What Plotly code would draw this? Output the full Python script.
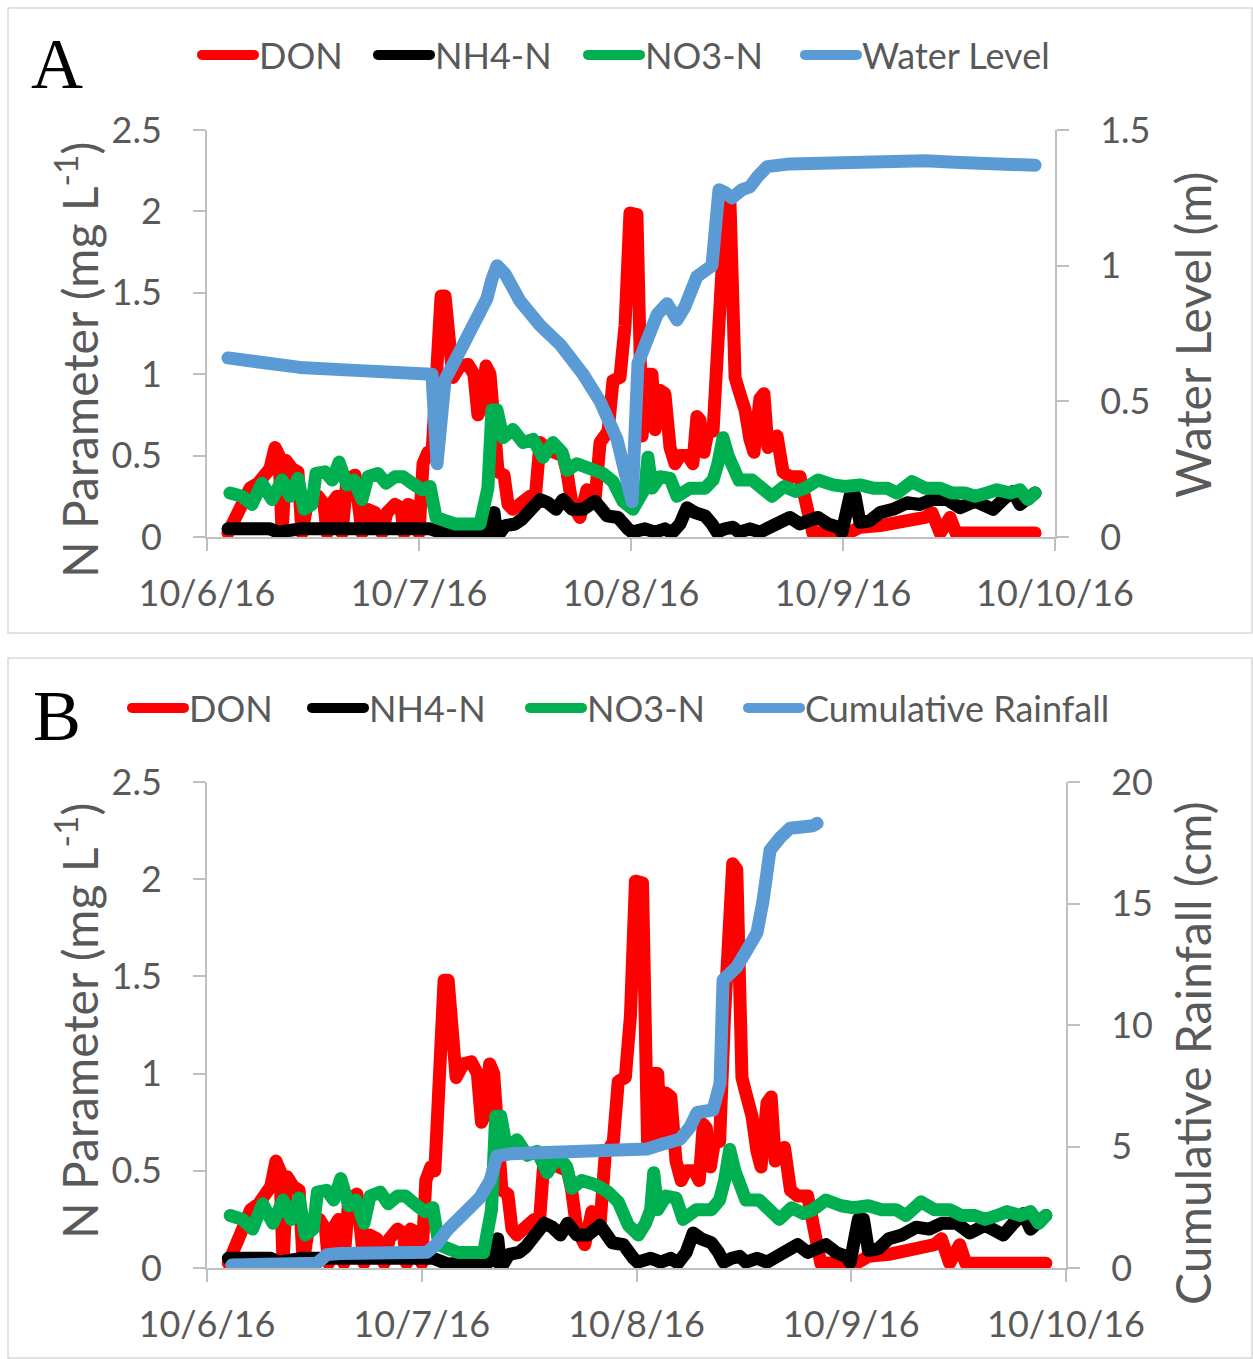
import pandas as pd
import plotly.graph_objects as go

BASE = pd.Timestamp("2016-10-06")

# ---------------- data (time in days after 10/6/16 00:00) ----------------
don_t = [0.099, 0.156, 0.203, 0.241, 0.274, 0.297, 0.321, 0.340, 0.354, 0.373, 0.401, 0.429, 0.448,
         0.472, 0.495, 0.524, 0.552, 0.566, 0.585, 0.613, 0.637, 0.660, 0.698, 0.731, 0.755, 0.792,
         0.825, 0.849, 0.887, 0.915, 0.929, 0.948, 0.981, 1.000, 1.019, 1.042, 1.061, 1.085, 1.104,
         1.123, 1.142, 1.160, 1.193, 1.231, 1.259, 1.278, 1.297, 1.316, 1.335, 1.354, 1.373, 1.401,
         1.420, 1.443, 1.476, 1.524, 1.547, 1.571, 1.618, 1.679, 1.698, 1.722, 1.759, 1.792, 1.830,
         1.854, 1.892, 1.915, 1.948, 1.972, 1.995, 2.028, 2.052, 2.080, 2.099, 2.113, 2.137, 2.160,
         2.184, 2.208, 2.231, 2.269, 2.292, 2.311, 2.325, 2.344, 2.363, 2.387, 2.410, 2.429, 2.448,
         2.467, 2.491, 2.509, 2.538, 2.561, 2.580, 2.608, 2.627, 2.646, 2.665, 2.689, 2.717, 2.750,
         2.797, 2.821, 2.858, 3.033, 3.080, 3.175, 3.292, 3.387, 3.420, 3.458, 3.505, 3.533, 3.906]
don_v = [0.025, 0.20, 0.30, 0.33, 0.40, 0.42, 0.55, 0.50, 0.025, 0.47, 0.42, 0.40, 0.025,
         0.20, 0.22, 0.25, 0.20, 0.025, 0.20, 0.25, 0.025, 0.35, 0.38, 0.025, 0.17, 0.15,
         0.025, 0.15, 0.20, 0.18, 0.025, 0.20, 0.18, 0.025, 0.45, 0.52, 0.50, 1.10, 1.48,
         1.48, 1.15, 0.98, 1.05, 1.06, 1.00, 0.75, 0.80, 1.05, 1.00, 0.60, 0.40, 0.38,
         0.20, 0.17, 0.20, 0.25, 0.22, 0.58, 0.53, 0.50, 0.40, 0.20, 0.12, 0.29, 0.22,
         0.58, 0.65, 0.96, 0.98, 1.30, 1.99, 1.98, 0.62, 1.00, 1.00, 0.66, 0.90, 0.88,
         0.55, 0.45, 0.50, 0.50, 0.45, 0.74, 0.72, 0.52, 0.65, 0.65, 1.30, 1.90, 2.08,
         2.05, 0.98, 0.90, 0.78, 0.60, 0.52, 0.85, 0.88, 0.55, 0.60, 0.62, 0.40, 0.37,
         0.37, 0.20, 0.025, 0.03, 0.06, 0.07, 0.10, 0.12, 0.15, 0.025, 0.12, 0.025, 0.025]

nh4_t = [0.099, 0.297, 0.335, 0.392, 0.439, 1.052, 1.099, 1.123, 1.311, 1.344, 1.354, 1.368, 1.406,
         1.453, 1.486, 1.524, 1.571, 1.608, 1.646, 1.679, 1.722, 1.774, 1.830, 1.887, 1.939, 1.986,
         2.005, 2.066, 2.113, 2.160, 2.193, 2.231, 2.264, 2.302, 2.349, 2.382, 2.406, 2.443, 2.481,
         2.509, 2.561, 2.608, 2.656, 2.703, 2.750, 2.797, 2.835, 2.882, 2.929, 2.976, 2.995, 3.033,
         3.057, 3.080, 3.127, 3.175, 3.236, 3.302, 3.363, 3.420, 3.491, 3.552, 3.623, 3.708, 3.755,
         3.802, 3.835, 3.873, 3.906]
nh4_v = [0.05, 0.05, 0.03, 0.04, 0.05, 0.05, 0.025, 0.02, 0.03, 0.05, 0.15, 0.0, 0.07,
         0.08, 0.11, 0.17, 0.23, 0.21, 0.17, 0.23, 0.17, 0.17, 0.22, 0.13, 0.12, 0.05,
         0.03, 0.05, 0.03, 0.05, 0.025, 0.08, 0.18, 0.15, 0.13, 0.08, 0.03, 0.05, 0.06,
         0.03, 0.05, 0.03, 0.06, 0.10, 0.12, 0.08, 0.10, 0.12, 0.08, 0.06, 0.03, 0.25,
         0.25, 0.09, 0.10, 0.15, 0.17, 0.21, 0.20, 0.23, 0.23, 0.18, 0.22, 0.17, 0.23,
         0.28, 0.20, 0.25, 0.27]

no3_t = [0.108, 0.165, 0.212, 0.259, 0.307, 0.354, 0.392, 0.429, 0.458, 0.495, 0.514, 0.557, 0.590,
         0.623, 0.660, 0.693, 0.731, 0.759, 0.807, 0.844, 0.887, 0.925, 0.967, 1.014, 1.052, 1.080,
         1.123, 1.170, 1.288, 1.307, 1.325, 1.344, 1.368, 1.396, 1.443, 1.491, 1.538, 1.585, 1.632,
         1.675, 1.698, 1.745, 1.807, 1.868, 1.915, 1.962, 2.009, 2.042, 2.066, 2.080, 2.099, 2.137,
         2.184, 2.217, 2.278, 2.349, 2.387, 2.410, 2.434, 2.458, 2.481, 2.509, 2.571, 2.618, 2.665,
         2.722, 2.778, 2.821, 2.882, 2.953, 3.009, 3.080, 3.142, 3.208, 3.255, 3.325, 3.387, 3.458,
         3.514, 3.575, 3.623, 3.679, 3.726, 3.788, 3.835, 3.873, 3.906]
no3_v = [0.27, 0.25, 0.20, 0.33, 0.23, 0.35, 0.25, 0.36, 0.17, 0.20, 0.39, 0.40, 0.35,
         0.46, 0.32, 0.35, 0.23, 0.37, 0.39, 0.33, 0.37, 0.37, 0.33, 0.29, 0.31, 0.12,
         0.10, 0.08, 0.08, 0.25, 0.30, 0.78, 0.78, 0.61, 0.66, 0.58, 0.60, 0.49, 0.58,
         0.52, 0.41, 0.45, 0.43, 0.39, 0.34, 0.22, 0.17, 0.23, 0.30, 0.49, 0.30, 0.37,
         0.36, 0.25, 0.30, 0.30, 0.35, 0.45, 0.61, 0.50, 0.43, 0.35, 0.35, 0.31, 0.25,
         0.31, 0.28, 0.30, 0.35, 0.32, 0.31, 0.32, 0.30, 0.30, 0.27, 0.34, 0.30, 0.30,
         0.27, 0.27, 0.25, 0.27, 0.29, 0.27, 0.29, 0.23, 0.27]

wl_t = [0.099, 0.250, 0.439, 0.675, 0.910, 1.061, 1.085, 1.123, 1.170, 1.226, 1.288, 1.321, 1.344,
        1.368, 1.406, 1.476, 1.571, 1.665, 1.774, 1.854, 1.934, 2.005, 2.033, 2.075, 2.123, 2.170,
        2.217, 2.255, 2.278, 2.311, 2.382, 2.401, 2.415, 2.443, 2.476, 2.524, 2.561, 2.599, 2.642,
        2.750, 2.892, 3.127, 3.387, 3.552, 3.741, 3.906]
wl_v = [0.66, 0.645, 0.625, 0.615, 0.605, 0.60, 0.27, 0.58, 0.65, 0.73, 0.84, 0.88, 0.95,
        1.00, 0.97, 0.87, 0.78, 0.71, 0.60, 0.50, 0.36, 0.13, 0.64, 0.74, 0.82, 0.86,
        0.80, 0.85, 0.90, 0.96, 1.00, 1.20, 1.28, 1.27, 1.25, 1.28, 1.29, 1.33, 1.365,
        1.375, 1.38, 1.385, 1.387, 1.38, 1.375, 1.37]

rain_t = [0.116, 0.512, 0.559, 0.619, 1.024, 1.071, 1.118, 1.192, 1.271, 1.318, 1.350, 1.411, 1.830,
          1.877, 2.049, 2.123, 2.203, 2.249, 2.282, 2.356, 2.389, 2.403, 2.468, 2.515, 2.561, 2.589,
          2.622, 2.668, 2.715, 2.822, 2.841]
rain_v = [0.12, 0.20, 0.55, 0.60, 0.65, 1.00, 1.56, 2.26, 2.90, 3.60, 4.60, 4.70, 4.75,
          4.86, 4.90, 5.10, 5.30, 5.80, 6.40, 6.50, 7.60, 11.85, 12.40, 13.10, 13.80, 15.10,
          17.20, 17.70, 18.10, 18.20, 18.30]

tick_days = [0, 1, 2, 3, 4]
tick_labels = ["10/6/16", "10/7/16", "10/8/16", "10/9/16", "10/10/16"]


def to_dt(days):
    return [BASE + pd.Timedelta(days=d) for d in days]


RED, BLACK, GREEN, BLUE = "#FF0000", "#000000", "#00B050", "#5B9BD5"
LW = 13
FONT = "Lato"
GREY_TXT = "#595959"
AX = "#BFBFBF"
W, H = 1253, 1359


def px_x(x):
    return x / W


def px_y(y):
    return 1 - y / H


fig = go.Figure()

panels = [
    dict(x="x", y="y", y2="y2", second=("Water Level", wl_t, wl_v),
         leg_names=["legend", "legend2", "legend3", "legend4"], leg_x=[197, 373, 583, 800], leg_y=55),
    dict(x="x2", y="y3", y2="y4", second=("Cumulative Rainfall", rain_t, rain_v),
         leg_names=["legend5", "legend6", "legend7", "legend8"], leg_x=[127, 307, 525, 743], leg_y=708),
]
series = [("DON", don_t, don_v, RED), ("NH4-N", nh4_t, nh4_v, BLACK), ("NO3-N", no3_t, no3_v, GREEN)]

legend_layout = {}
for p in panels:
    entries = [(n, t, v, c, p["y"]) for n, t, v, c in series]
    n2, t2, v2 = p["second"]
    entries.append((n2, t2, v2, BLUE, p["y2"]))
    for (name, t, v, c, yax), lg, lx in zip(entries, p["leg_names"], p["leg_x"]):
        fig.add_trace(go.Scatter(x=to_dt(t), y=v, mode="lines", name=name, xaxis=p["x"], yaxis=yax,
                                 line=dict(color=c, width=LW), legend=lg))
        legend_layout[lg] = dict(orientation="h", x=px_x(lx), xanchor="left", y=px_y(p["leg_y"]),
                                 yanchor="middle", font=dict(family=FONT, size=36, color=GREY_TXT),
                                 bgcolor="rgba(0,0,0,0)", itemwidth=52)

tickfont = dict(family=FONT, size=36, color=GREY_TXT)
common = dict(showline=True, linecolor=AX, linewidth=2, ticks="outside", ticklen=12, tickwidth=2,
              tickcolor=AX, showgrid=False, zeroline=False, tickfont=tickfont, automargin=False)

xdates = to_dt(tick_days)
fig.update_layout(
    template="none",
    width=W, height=H, margin=dict(l=0, r=0, t=0, b=0, autoexpand=False),
    paper_bgcolor="white", plot_bgcolor="white", showlegend=True,
    xaxis=dict(domain=[px_x(207), px_x(1055)], anchor="y", type="date",
               range=[xdates[0], xdates[-1]], tickvals=xdates, ticktext=tick_labels,
               ticklabelstandoff=12, **common),
    yaxis=dict(domain=[px_y(537), px_y(130)], anchor="x", range=[0, 2.5], tickvals=[0, 0.5, 1, 1.5, 2, 2.5],
               ticktext=["0", "0.5", "1", "1.5", "2", "2.5"], ticklabelstandoff=24, **common),
    yaxis2=dict(domain=[px_y(537), px_y(130)], anchor="x", overlaying="y", side="right", range=[0, 1.5],
                tickvals=[0, 0.5, 1, 1.5], ticktext=["0", "0.5", "1", "1.5"], ticklabelstandoff=24, **common),
    xaxis2=dict(domain=[px_x(207), px_x(1066)], anchor="y3", type="date",
                range=[xdates[0], xdates[-1]], tickvals=xdates, ticktext=tick_labels,
                ticklabelstandoff=12, **common),
    yaxis3=dict(domain=[px_y(1268), px_y(782)], anchor="x2", range=[0, 2.5], tickvals=[0, 0.5, 1, 1.5, 2, 2.5],
                ticktext=["0", "0.5", "1", "1.5", "2", "2.5"], ticklabelstandoff=24, **common),
    yaxis4=dict(domain=[px_y(1268), px_y(782)], anchor="x2", overlaying="y3", side="right", range=[0, 20],
                tickvals=[0, 5, 10, 15, 20], ticktext=["0", "5", "10", "15", "20"], ticklabelstandoff=24, **common),
    **legend_layout,
)

title_font = dict(family=FONT, size=48, color=GREY_TXT)
annos = [
    dict(text="N Parameter (mg L<sup>-1</sup>)", x=px_x(76), y=px_y(360), textangle=-90),
    dict(text="Water Level (m)", x=px_x(1192), y=px_y(335), textangle=-90),
    dict(text="N Parameter (mg L<sup>-1</sup>)", x=px_x(76), y=px_y(1021), textangle=-90),
    dict(text="Cumulative Rainfall (cm)", x=px_x(1192), y=px_y(1053), textangle=-90),
]
for a in annos:
    fig.add_annotation(xref="paper", yref="paper", xanchor="center", yanchor="middle", showarrow=False,
                       font=title_font, **a)
for letter, yy in [("A", 64), ("B", 716)]:
    fig.add_annotation(text=letter, xref="paper", yref="paper", x=px_x(57), y=px_y(yy), xanchor="center",
                       yanchor="middle", showarrow=False,
                       font=dict(family="Liberation Serif", size=72, color="black"))

for (y0, y1) in [(8, 633), (658, 1358)]:
    fig.add_shape(type="rect", xref="paper", yref="paper", x0=px_x(8), x1=px_x(1252), y0=px_y(y1), y1=px_y(y0),
                  line=dict(color="#D9D9D9", width=1.5), fillcolor="rgba(0,0,0,0)", layer="below")

# rounded line joins (as in the original), applied through a stylesheet
round_css = (
    "var s=document.createElement('style');"
    "s.innerHTML='.scatterlayer .js-line{stroke-linejoin:round;stroke-linecap:round;}"
    " .legendlines .js-line{stroke-linecap:round;}';"
    "document.head.appendChild(s);"
)

fig.write_html("out.html", post_script=round_css)
